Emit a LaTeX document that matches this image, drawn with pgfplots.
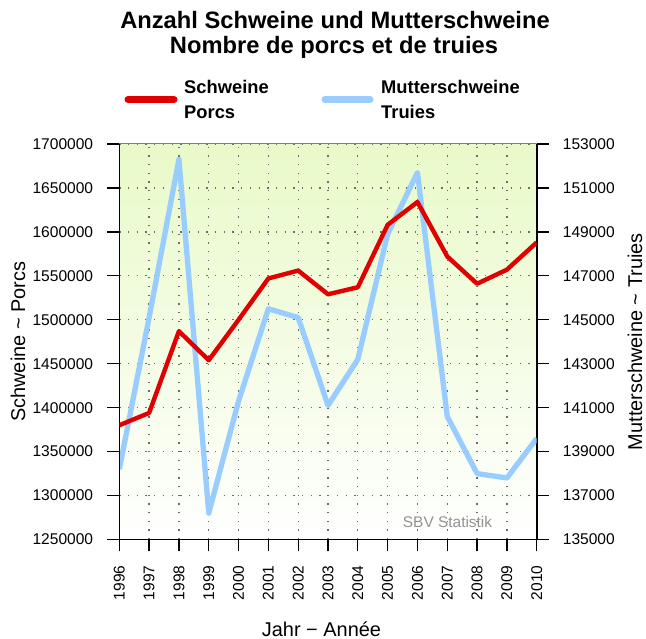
\documentclass[border=0pt]{standalone}
\usepackage{pgfplots}
\pgfplotsset{compat=1.18}
\usepackage{fontspec}
\setmainfont{Liberation Sans}
\definecolor{sred}{RGB}{224,0,0}
\definecolor{sblue}{RGB}{153,204,255}
\definecolor{bggreen}{RGB}{232,250,200}
\pgfplotsset{
  common/.style={
    at={(119.3bp,99.5bp)}, anchor=south west, scale only axis,
    width=417.4bp, height=395.5bp,
    xmin=1996, xmax=2010,
    /pgf/number format/assume math mode=true,
    /pgf/number format/1000 sep={},
    /pgf/number format/fixed,
    scaled y ticks=false, scaled x ticks=false,
    tick label style={font=\fontsize{15.6}{18}\selectfont, inner sep=0pt},
    ticklabel shift=14bp,
    tick align=outside, major tick length=12bp,
    tick style={black, line width=1.3bp},
    axis line style={black, line width=1.6bp, -},
  }
}
\begin{document}
\begin{tikzpicture}[x=1bp,y=1bp]
\path[use as bounding box] (0,0) rectangle (646,639);
% right axis: Mutterschweine
\begin{axis}[common,
  ymin=135000, ymax=153000,
  ytick={135000,137000,139000,141000,143000,145000,147000,149000,151000,153000},
  xtick={1996,1997,1998,1999,2000,2001,2002,2003,2004,2005,2006,2007,2008,2009,2010},
  axis x line*=bottom, axis y line*=right,
  xticklabel style={rotate=90, anchor=east},
  yticklabel style={anchor=west},
  grid=major,
  major grid style={gray!85!black, line width=1.3bp, dash pattern=on 1.3bp off 7.4bp},
  axis background/.style={top color=bggreen, bottom color=white},
  every axis y label/.style={at={(axis description cs:1.2523,0.5)}, rotate=90, anchor=base},
  every axis x label/.style={at={(axis description cs:0.4844,-0.244)}, anchor=base},
  ylabel={\fontsize{20}{23}\selectfont Mutterschweine \textasciitilde{} Truies},
  xlabel={\fontsize{20}{23}\selectfont Jahr − Année},
]
\addplot[sblue, line width=5.3bp, line join=round] coordinates {
(1996,138200) (1997,145100) (1998,152300) (1999,136200) (2000,141300)
(2001,145500) (2002,145100) (2003,141100) (2004,143200) (2005,148900)
(2006,151700) (2007,140600) (2008,138000) (2009,137800) (2010,139600)};
\draw[gray, line width=1bp] (rel axis cs:0,1) -- (rel axis cs:1,1);
\end{axis}
% left axis: Schweine
\begin{axis}[common,
  ymin=1250000, ymax=1700000,
  ytick={1250000,1300000,1350000,1400000,1450000,1500000,1550000,1600000,1650000,1700000},
  axis x line=none, axis y line*=left,
  yticklabel style={anchor=east},
  every axis y label/.style={at={(axis description cs:-0.2259,0.5)}, rotate=90, anchor=base},
  ylabel={\fontsize{20}{23}\selectfont Schweine \textasciitilde{} Porcs},
]
\addplot[sred, line width=4.4bp, line join=round] coordinates {
(1996,1380000) (1997,1394000) (1998,1487000) (1999,1454000) (2000,1500000)
(2001,1547000) (2002,1556000) (2003,1529000) (2004,1537000) (2005,1608000)
(2006,1634000) (2007,1572000) (2008,1541000) (2009,1557000) (2010,1588000)};
\end{axis}
% title
\node[anchor=base, font=\bfseries\fontsize{23.8}{27}\selectfont] at (335,610) {Anzahl Schweine und Mutterschweine};
\node[anchor=base, font=\bfseries\fontsize{23.8}{27}\selectfont] at (334,585) {Nombre de porcs et de truies};
% legend
\draw[sred, line width=7bp, line cap=round] (128,539.5) -- (174,539.5);
\node[anchor=base west, inner sep=0, font=\bfseries\fontsize{18.4}{21}\selectfont] at (184,545) {Schweine};
\node[anchor=base west, inner sep=0, font=\bfseries\fontsize{18.4}{21}\selectfont] at (184,520) {Porcs};
\draw[sblue, line width=7bp, line cap=round] (325,539.5) -- (370,539.5);
\node[anchor=base west, inner sep=0, font=\bfseries\fontsize{18.4}{21}\selectfont] at (381,545) {Mutterschweine};
\node[anchor=base west, inner sep=0, font=\bfseries\fontsize{18.4}{21}\selectfont] at (381,520) {Truies};
% source
\node[anchor=base west, inner sep=0, text=gray!85, font=\fontsize{15.5}{18}\selectfont] at (402.7,111) {SBV Statistik};
\end{tikzpicture}
\end{document}
